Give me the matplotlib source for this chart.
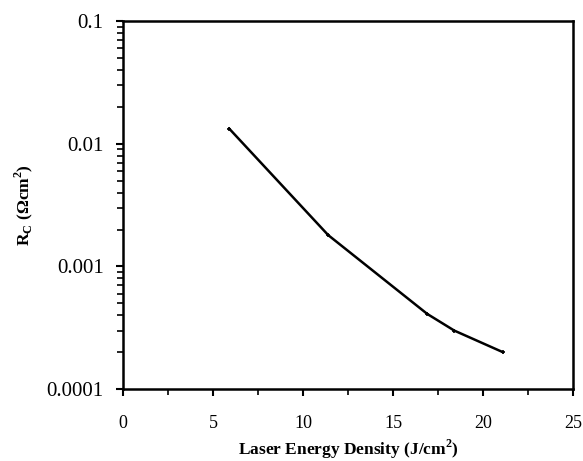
import matplotlib
matplotlib.use("Agg")
import matplotlib.pyplot as plt
from matplotlib.ticker import LogLocator, NullFormatter, MultipleLocator

# Data
energy = [5.9, 11.4, 16.9, 18.4, 21.1]
rc = [0.0133, 0.0018, 0.00041, 0.0003, 0.0002]

xticks = [0, 5, 10, 15, 20, 25]
yticks = [0.0001, 0.001, 0.01, 0.1]
ytick_labels = ["0.0001", "0.001", "0.01", "0.1"]

plt.rcParams['font.family'] = ['Liberation Serif', 'DejaVu Serif']
plt.rcParams['mathtext.fontset'] = 'custom'
plt.rcParams['mathtext.rm'] = 'Liberation Serif'
plt.rcParams['mathtext.bf'] = 'Liberation Serif:bold'

fig = plt.figure(figsize=(5.83, 4.61), dpi=100)
ax = fig.add_axes([0.211, 0.156, 0.772, 0.798])

ax.plot(energy, rc, color='black', lw=1.8, marker='+', ms=3, mew=1.2)

ax.set_yscale('log')
ax.set_xlim(0, 25)
ax.set_ylim(0.0001, 0.1)

ax.tick_params(axis='both', which='major', direction='out', length=5, width=1.5, color='black')
ax.tick_params(axis='both', which='minor', direction='out', length=4, width=1.2, color='black')
ax.tick_params(axis='y', which='major', pad=9)
ax.tick_params(axis='x', which='major', pad=14)

ax.set_xticks(xticks)
ax.set_xticklabels([str(t) for t in xticks])
ax.xaxis.set_minor_locator(MultipleLocator(2.5))
ax.set_yticks(yticks)
ax.set_yticklabels(ytick_labels)
ax.yaxis.set_minor_locator(LogLocator(base=10, subs=range(2, 10)))
ax.yaxis.set_minor_formatter(NullFormatter())

for s in ax.spines.values():
    s.set_linewidth(1.8)
    s.set_color('black')

ax.set_xlabel('Laser Energy Density (J/cm$^\\mathbf{2}$)',
              fontweight='bold', fontsize=12.5, labelpad=4)
ax.set_ylabel('R$_\\mathbf{C}$ (Ωcm$^\\mathbf{2}$)',
              fontweight='bold', fontsize=12.5, labelpad=8)

fig.canvas.draw()
for lab in ax.get_xticklabels():
    lab.set_fontfamily('Liberation Serif')
    lab.set_fontsize(13)
for lab in ax.get_yticklabels():
    lab.set_fontfamily('Liberation Serif')
    lab.set_fontsize(15)

fig.savefig('out.png', dpi=100, facecolor='white')
